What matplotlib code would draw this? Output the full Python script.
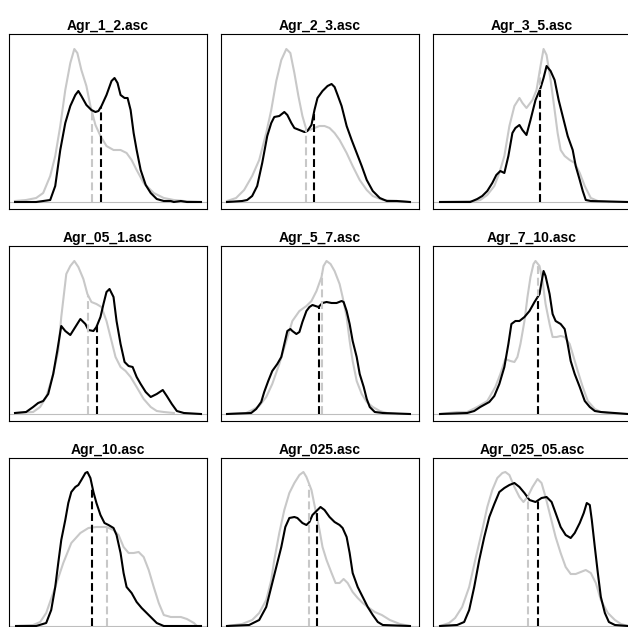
import numpy as np
import matplotlib
matplotlib.use("Agg")
import matplotlib.pyplot as plt

plt.rcParams["font.family"] = ["Liberation Sans", "DejaVu Sans"]

titles = ["Agr_1_2.asc", "Agr_2_3.asc", "Agr_3_5.asc",
          "Agr_05_1.asc", "Agr_5_7.asc", "Agr_7_10.asc",
          "Agr_10.asc", "Agr_025.asc", "Agr_025_05.asc"]

# density curves (grey = reference, black = sample)
a12_gx = [6, 17, 27, 34, 41, 46, 51, 56, 61, 65, 68, 72, 77, 81, 86, 91, 97, 104, 111, 117, 122, 127, 134, 144, 154, 164, 174, 191]
a12_gy = [1, 2, 4, 9, 26, 46, 76, 112, 139, 153, 149, 132, 116, 96, 77, 66, 56, 52, 52, 49, 42, 32, 19, 9, 4, 2, 1, 0]
a12_bx = [6, 27, 41, 46, 51, 56, 61, 66, 69, 72, 77, 82, 86, 89, 92, 97, 102, 105, 108, 111, 115, 118, 121, 124, 127, 131, 136, 141, 147, 154, 161, 164, 171, 177, 191]
a12_by = [0, 0, 2, 16, 52, 79, 96, 107, 111, 106, 97, 92, 90, 91, 96, 107, 121, 124, 119, 107, 104, 104, 92, 69, 52, 32, 17, 9, 3, 1, 1, 0, 1, 0, 0]

a23_gx = [6, 15, 23, 31, 38, 45, 50, 55, 60, 65, 69, 73, 77, 81, 85, 88, 93, 98, 103, 108, 113, 118, 125, 131, 138, 145, 151, 161, 175, 188]
a23_gy = [1, 4, 12, 26, 42, 69, 92, 121, 142, 153, 149, 129, 106, 86, 72, 72, 74, 76, 76, 74, 69, 62, 49, 36, 22, 12, 6, 2, 1, 0]
a23_bx = [6, 21, 26, 31, 36, 41, 46, 50, 53, 58, 63, 66, 70, 73, 78, 83, 86, 90, 93, 96, 101, 106, 110, 113, 116, 120, 125, 130, 135, 140, 145, 151, 158, 165, 175, 188]
a23_by = [0, 1, 2, 6, 16, 39, 66, 79, 85, 86, 90, 87, 79, 74, 72, 70, 71, 77, 92, 104, 111, 116, 118, 115, 107, 96, 76, 62, 49, 36, 22, 11, 4, 1, 1, 0]

a35_gx = [7, 41, 47, 54, 61, 66, 71, 76, 81, 86, 89, 93, 99, 103, 107, 110, 113, 117, 121, 124, 127, 131, 136, 141, 146, 151, 157, 164, 174]
a35_gy = [0, 1, 2, 7, 16, 29, 46, 76, 96, 104, 99, 94, 102, 112, 136, 153, 147, 122, 92, 69, 52, 46, 42, 39, 29, 16, 4, 1, 0]
a35_bx = [7, 37, 44, 49, 54, 59, 63, 67, 71, 75, 79, 82, 86, 89, 93, 97, 102, 107, 110, 113, 117, 121, 125, 129, 134, 139, 142, 146, 149, 152, 157, 194]
a35_by = [0, 0, 3, 6, 11, 19, 27, 31, 29, 46, 69, 74, 77, 72, 67, 82, 102, 114, 124, 136, 131, 122, 102, 86, 66, 52, 36, 22, 11, 2, 1, 0]

a051_gx = [6, 24, 31, 37, 44, 49, 52, 57, 61, 65, 69, 74, 78, 82, 87, 92, 97, 101, 106, 111, 116, 121, 127, 134, 141, 147, 154, 164]
a051_gy = [1, 2, 7, 17, 40, 63, 97, 140, 148, 153, 147, 135, 120, 112, 110, 107, 93, 77, 57, 47, 43, 37, 27, 15, 7, 3, 2, 1]
a051_bx = [6, 17, 24, 29, 34, 39, 44, 48, 52, 56, 61, 66, 71, 76, 79, 84, 87, 91, 94, 97, 100, 104, 107, 111, 115, 119, 123, 127, 131, 136, 141, 147, 153, 157, 162, 167, 174, 191]
a051_by = [1, 2, 7, 11, 13, 20, 40, 63, 88, 83, 79, 87, 95, 90, 84, 83, 87, 97, 110, 122, 125, 117, 93, 70, 52, 48, 47, 37, 30, 22, 17, 20, 24, 18, 10, 3, 1, 0]

a57_gx = [6, 25, 33, 38, 45, 51, 58, 65, 71, 78, 85, 90, 95, 100, 102, 105, 109, 113, 118, 121, 125, 128, 131, 135, 140, 145, 151, 158, 165, 175]
a57_gy = [0, 1, 5, 8, 17, 30, 50, 73, 93, 103, 108, 113, 123, 137, 148, 153, 150, 143, 130, 117, 97, 73, 53, 33, 20, 12, 7, 3, 1, 0]
a57_bx = [6, 30, 35, 40, 43, 47, 51, 56, 60, 63, 66, 69, 71, 75, 78, 81, 85, 88, 91, 94, 97, 101, 105, 110, 115, 120, 122, 125, 128, 131, 135, 138, 142, 145, 148, 153, 161, 188]
a57_by = [0, 1, 5, 12, 22, 33, 43, 50, 57, 70, 83, 85, 83, 80, 82, 92, 103, 107, 109, 108, 107, 111, 112, 111, 111, 113, 112, 103, 90, 73, 57, 40, 27, 15, 7, 2, 1, 0]

a710_gx = [7, 24, 34, 44, 54, 62, 67, 72, 77, 81, 84, 87, 91, 94, 97, 100, 102, 106, 109, 112, 116, 119, 123, 127, 131, 136, 139, 144, 149, 154, 161, 167, 174, 187]
a710_gy = [0, 2, 2, 7, 13, 27, 40, 55, 53, 52, 57, 70, 93, 117, 137, 150, 153, 148, 133, 110, 90, 77, 77, 78, 77, 70, 60, 43, 27, 13, 5, 2, 1, 0]
a710_bx = [7, 34, 41, 47, 56, 61, 66, 71, 75, 78, 82, 86, 91, 96, 101, 106, 108, 110, 112, 116, 119, 122, 127, 131, 134, 137, 141, 146, 151, 156, 161, 167, 194]
a710_by = [0, 1, 3, 7, 12, 18, 30, 47, 70, 90, 93, 93, 97, 103, 112, 120, 132, 143, 138, 120, 100, 93, 90, 85, 70, 53, 40, 27, 13, 7, 3, 2, 0]

a10_gx = [7, 24, 31, 37, 46, 54, 62, 71, 79, 87, 97, 104, 109, 114, 119, 124, 129, 134, 139, 144, 149, 154, 161, 171, 177, 184, 187]
a10_gy = [0, 1, 4, 13, 39, 63, 83, 93, 98, 99, 99, 96, 91, 79, 73, 73, 74, 69, 56, 39, 23, 11, 9, 9, 7, 3, 0]
a10_bx = [7, 27, 37, 42, 46, 49, 52, 56, 59, 62, 66, 69, 72, 76, 78, 81, 84, 87, 91, 95, 99, 104, 107, 111, 114, 117, 122, 127, 132, 137, 142, 147, 154, 191]
a10_by = [0, 0, 3, 16, 39, 63, 86, 106, 123, 134, 139, 141, 146, 153, 154, 148, 134, 123, 111, 103, 101, 98, 91, 73, 53, 39, 33, 24, 18, 13, 8, 3, 0, 0]

a025_gx = [6, 21, 31, 38, 45, 50, 53, 58, 63, 68, 73, 78, 82, 85, 90, 94, 98, 101, 105, 110, 114, 118, 122, 126, 131, 136, 141, 146, 153, 160, 168, 178, 188]
a025_gy = [0, 2, 6, 13, 26, 46, 66, 93, 116, 133, 143, 151, 154, 149, 136, 116, 96, 79, 66, 53, 43, 43, 47, 43, 34, 28, 23, 19, 14, 11, 6, 2, 0]
a025_bx = [6, 28, 38, 45, 50, 55, 60, 64, 68, 73, 76, 81, 85, 88, 91, 95, 99, 103, 108, 113, 118, 121, 125, 128, 131, 136, 141, 146, 151, 156, 161, 188]
a025_by = [0, 1, 6, 19, 39, 59, 79, 99, 108, 109, 108, 103, 101, 104, 111, 115, 119, 116, 109, 104, 101, 98, 89, 73, 53, 39, 29, 19, 11, 4, 1, 0]

a02505_gx = [7, 16, 22, 29, 36, 42, 49, 54, 59, 64, 69, 72, 76, 81, 86, 90, 94, 99, 104, 108, 112, 117, 122, 127, 132, 137, 142, 147, 152, 157, 162, 167, 174, 181, 187, 194]
a02505_gy = [0, 3, 8, 19, 39, 66, 96, 119, 136, 148, 153, 154, 151, 139, 129, 124, 129, 139, 147, 143, 129, 109, 89, 73, 59, 52, 52, 54, 56, 53, 43, 26, 13, 6, 2, 0]
a02505_bx = [7, 24, 31, 36, 41, 46, 51, 56, 61, 66, 71, 76, 81, 86, 91, 96, 102, 108, 113, 118, 122, 127, 132, 137, 141, 146, 150, 153, 156, 158, 161, 164, 167, 171, 175, 181, 194]
a02505_by = [0, 1, 4, 16, 39, 66, 89, 109, 122, 134, 138, 141, 143, 139, 133, 126, 124, 128, 129, 124, 113, 99, 91, 88, 93, 103, 113, 123, 121, 106, 79, 53, 29, 13, 4, 1, 0]

grey_x = [a12_gx, a23_gx, a35_gx, a051_gx, a57_gx, a710_gx, a10_gx, a025_gx, a02505_gx]
grey_y = [a12_gy, a23_gy, a35_gy, a051_gy, a57_gy, a710_gy, a10_gy, a025_gy, a02505_gy]
black_x = [a12_bx, a23_bx, a35_bx, a051_bx, a57_bx, a710_bx, a10_bx, a025_bx, a02505_bx]
black_y = [a12_by, a23_by, a35_by, a051_by, a57_by, a710_by, a10_by, a025_by, a02505_by]

grey_mean = [82.3, 84.7, 106.3, 79, 100.7, 104.7, 97.3, 88, 94.7]
black_mean = [91.3, 92.3, 106.3, 88, 97.3, 104.7, 83, 95.3, 104.7]

W, H = 628, 627
fig = plt.figure(figsize=(W / 100, H / 100), dpi=100)

lefts = [9, 221, 433]
tops = [34, 246, 458]
aw, ah = 198, 175
grey = "#c8c8c8"
dash = (0, (3.8, 1.8))

for i in range(9):
    r, c = divmod(i, 3)
    ax = fig.add_axes([lefts[c] / W, (H - tops[r] - ah) / H, aw / W, ah / H])
    ax.set_xlim(0, 197)
    ax.set_ylim(-7, 168)
    ax.axhline(0, color="#bebebe", lw=0.8, zorder=1)
    ax.plot(grey_x[i], grey_y[i], color=grey, lw=1.5, zorder=2)
    ax.plot(black_x[i], black_y[i], color="black", lw=1.5, zorder=3)
    gm = grey_mean[i]
    bm = black_mean[i]
    ax.plot([gm, gm], [0, np.interp(gm, grey_x[i], grey_y[i])], color=grey,
            lw=1.5, ls=dash, zorder=4)
    ax.plot([bm, bm], [0, np.interp(bm, black_x[i], black_y[i])], color="black",
            lw=1.5, ls=dash, zorder=5)
    ax.set_xticks([])
    ax.set_yticks([])
    for s in ax.spines.values():
        s.set_linewidth(0.8)
    ax.set_title(titles[i], fontsize=10, fontweight="bold", pad=3)

fig.savefig("out.png", dpi=100)
